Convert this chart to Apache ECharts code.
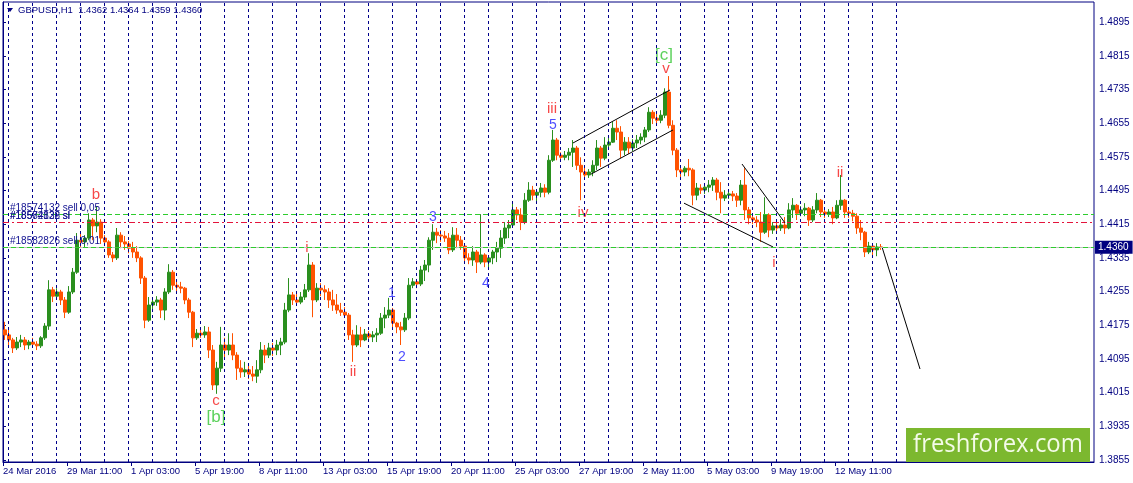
<!DOCTYPE html>
<html><head><meta charset="utf-8">
<script src="https://cdn.jsdelivr.net/npm/echarts@6/dist/echarts.min.js"></script>
<style>html,body{margin:0;padding:0;background:#fff}#c{width:1133px;height:483px}</style>
</head><body><div id="c"></div>
<script>
// ---- chart texts ----
const chartTitle = 'GBPUSD,H1  1.4362 1.4364 1.4359 1.4360';
const watermark = 'freshforex.com';

// ---- x axis: H1 bar index, a label every 64 bars ----
const xTickLabels = ['24 Mar 2016','29 Mar 11:00','1 Apr 03:00','5 Apr 19:00','8 Apr 11:00','13 Apr 03:00','15 Apr 19:00','20 Apr 11:00','25 Apr 03:00','27 Apr 19:00','2 May 11:00','5 May 03:00','9 May 19:00','12 May 11:00'];
const barsPerLabel = 64;
const totalBarSlots = 1091;
const firstMidnightBar = 5;   // 25 Mar 00:00
const barsPerDay = 24;
const lastGridBar = 893;

// ---- y axis ----
const yTickLabels = ['1.3855','1.3935','1.4015','1.4095','1.4175','1.4255','1.4335','1.4415','1.4495','1.4575','1.4655','1.4735','1.4815','1.4895'];
const yMin = 1.3850, yMax = 1.4943;

// ---- price candles: each one groups 4 H1 bars, [open, close, low, high] ----
const barsPerCandle = 4;
const candles = [
[1.4164,1.4152,1.4140,1.4183],[1.4152,1.4140,1.4128,1.4164],[1.4140,1.4121,1.4109,1.4145],[1.4121,1.4135,1.4116,1.4147],
[1.4135,1.4140,1.4123,1.4152],[1.4140,1.4128,1.4116,1.4147],[1.4128,1.4135,1.4118,1.4140],[1.4135,1.4130,1.4123,1.4145],
[1.4130,1.4126,1.4116,1.4137],[1.4126,1.4145,1.4121,1.4149],[1.4145,1.4173,1.4140,1.4180],[1.4173,1.4259,1.4164,1.4282],
[1.4259,1.4244,1.4230,1.4266],[1.4244,1.4254,1.4235,1.4263],[1.4254,1.4235,1.4223,1.4259],[1.4235,1.4206,1.4192,1.4242],
[1.4206,1.4254,1.4202,1.4268],[1.4254,1.4301,1.4249,1.4311],[1.4301,1.4377,1.4297,1.4394],[1.4377,1.4373,1.4358,1.4392],
[1.4373,1.4382,1.4361,1.4389],[1.4382,1.4425,1.4377,1.4441],[1.4425,1.4411,1.4377,1.4430],[1.4411,1.4420,1.4396,1.4458],
[1.4420,1.4382,1.4368,1.4427],[1.4382,1.4373,1.4363,1.4389],[1.4373,1.4342,1.4335,1.4377],[1.4342,1.4335,1.4325,1.4349],
[1.4335,1.4389,1.4330,1.4406],[1.4389,1.4373,1.4358,1.4396],[1.4373,1.4368,1.4354,1.4387],[1.4368,1.4358,1.4346,1.4375],
[1.4358,1.4349,1.4335,1.4373],[1.4349,1.4335,1.4325,1.4363],[1.4335,1.4287,1.4273,1.4339],[1.4287,1.4187,1.4168,1.4292],
[1.4187,1.4223,1.4183,1.4242],[1.4223,1.4230,1.4211,1.4240],[1.4230,1.4235,1.4221,1.4244],[1.4235,1.4211,1.4192,1.4240],
[1.4211,1.4254,1.4187,1.4263],[1.4254,1.4301,1.4249,1.4320],[1.4301,1.4270,1.4259,1.4306],[1.4270,1.4266,1.4254,1.4282],
[1.4266,1.4263,1.4251,1.4278],[1.4263,1.4235,1.4225,1.4266],[1.4235,1.4206,1.4192,1.4240],[1.4206,1.4145,1.4123,1.4209],
[1.4145,1.4156,1.4140,1.4166],[1.4156,1.4152,1.4145,1.4166],[1.4152,1.4159,1.4145,1.4173],[1.4159,1.4116,1.4097,1.4171],
[1.4116,1.4033,1.4021,1.4128],[1.4033,1.4073,1.4012,1.4088],[1.4073,1.4128,1.4064,1.4171],[1.4128,1.4116,1.4099,1.4145],
[1.4116,1.4128,1.4104,1.4156],[1.4128,1.4104,1.4092,1.4156],[1.4104,1.4073,1.4045,1.4111],[1.4073,1.4064,1.4050,1.4092],
[1.4064,1.4069,1.4052,1.4088],[1.4069,1.4059,1.4047,1.4080],[1.4059,1.4054,1.4042,1.4078],[1.4054,1.4069,1.4038,1.4092],
[1.4069,1.4116,1.4061,1.4135],[1.4116,1.4104,1.4085,1.4128],[1.4104,1.4121,1.4097,1.4133],[1.4121,1.4116,1.4102,1.4133],
[1.4116,1.4128,1.4104,1.4140],[1.4128,1.4135,1.4104,1.4145],[1.4135,1.4211,1.4130,1.4228],[1.4211,1.4247,1.4206,1.4287],
[1.4247,1.4235,1.4223,1.4254],[1.4235,1.4230,1.4221,1.4249],[1.4230,1.4242,1.4225,1.4254],[1.4242,1.4259,1.4235,1.4273],
[1.4259,1.4318,1.4254,1.4346],[1.4318,1.4235,1.4194,1.4325],[1.4235,1.4263,1.4230,1.4275],[1.4263,1.4259,1.4244,1.4275],
[1.4259,1.4254,1.4235,1.4270],[1.4254,1.4235,1.4216,1.4263],[1.4235,1.4223,1.4209,1.4259],[1.4223,1.4211,1.4202,1.4249],
[1.4211,1.4206,1.4197,1.4228],[1.4206,1.4199,1.4192,1.4218],[1.4199,1.4152,1.4140,1.4204],[1.4152,1.4128,1.4088,1.4164],
[1.4128,1.4152,1.4123,1.4175],[1.4152,1.4140,1.4123,1.4171],[1.4140,1.4154,1.4137,1.4166],[1.4154,1.4147,1.4137,1.4161],
[1.4147,1.4152,1.4135,1.4161],[1.4152,1.4156,1.4135,1.4168],[1.4156,1.4192,1.4152,1.4204],[1.4192,1.4199,1.4168,1.4218],
[1.4199,1.4211,1.4192,1.4240],[1.4211,1.4180,1.4166,1.4216],[1.4180,1.4171,1.4156,1.4183],[1.4171,1.4164,1.4128,1.4183],
[1.4164,1.4192,1.4159,1.4204],[1.4192,1.4270,1.4187,1.4287],[1.4270,1.4278,1.4263,1.4287],[1.4278,1.4273,1.4263,1.4285],
[1.4273,1.4306,1.4268,1.4316],[1.4306,1.4318,1.4280,1.4330],[1.4318,1.4377,1.4301,1.4384],[1.4377,1.4396,1.4354,1.4415],
[1.4396,1.4389,1.4370,1.4406],[1.4389,1.4387,1.4373,1.4401],[1.4387,1.4382,1.4373,1.4399],[1.4382,1.4354,1.4344,1.4394],
[1.4354,1.4389,1.4349,1.4408],[1.4389,1.4377,1.4358,1.4406],[1.4377,1.4363,1.4354,1.4387],[1.4363,1.4335,1.4325,1.4368],
[1.4335,1.4330,1.4320,1.4346],[1.4330,1.4349,1.4316,1.4363],[1.4349,1.4325,1.4299,1.4354],[1.4325,1.4342,1.4320,1.4439],
[1.4342,1.4325,1.4313,1.4346],[1.4325,1.4335,1.4311,1.4339],[1.4335,1.4349,1.4320,1.4354],[1.4349,1.4358,1.4325,1.4373],
[1.4358,1.4382,1.4335,1.4401],[1.4382,1.4406,1.4368,1.4420],[1.4406,1.4413,1.4382,1.4425],[1.4413,1.4449,1.4408,1.4468],
[1.4449,1.4437,1.4425,1.4456],[1.4437,1.4420,1.4401,1.4453],[1.4420,1.4472,1.4415,1.4489],[1.4472,1.4496,1.4468,1.4515],
[1.4496,1.4484,1.4472,1.4506],[1.4484,1.4491,1.4465,1.4496],[1.4491,1.4501,1.4479,1.4513],[1.4501,1.4491,1.4479,1.4510],
[1.4491,1.4567,1.4486,1.4579],[1.4567,1.4615,1.4563,1.4639],[1.4615,1.4579,1.4567,1.4620],[1.4579,1.4574,1.4565,1.4586],
[1.4574,1.4579,1.4567,1.4589],[1.4579,1.4586,1.4567,1.4596],[1.4586,1.4596,1.4551,1.4615],[1.4596,1.4555,1.4544,1.4601],
[1.4555,1.4539,1.4472,1.4574],[1.4539,1.4532,1.4520,1.4553],[1.4532,1.4539,1.4525,1.4546],[1.4539,1.4555,1.4529,1.4567],
[1.4555,1.4596,1.4544,1.4615],[1.4596,1.4572,1.4551,1.4601],[1.4572,1.4603,1.4567,1.4622],[1.4603,1.4610,1.4596,1.4624],
[1.4610,1.4643,1.4608,1.4658],[1.4643,1.4634,1.4615,1.4662],[1.4634,1.4591,1.4572,1.4648],[1.4591,1.4610,1.4579,1.4622],
[1.4610,1.4596,1.4582,1.4622],[1.4596,1.4608,1.4589,1.4617],[1.4608,1.4615,1.4596,1.4627],[1.4615,1.4622,1.4605,1.4631],
[1.4622,1.4639,1.4610,1.4646],[1.4639,1.4681,1.4634,1.4693],[1.4681,1.4667,1.4653,1.4686],[1.4667,1.4662,1.4653,1.4677],
[1.4662,1.4674,1.4655,1.4686],[1.4674,1.4729,1.4667,1.4738],[1.4729,1.4650,1.4643,1.4767],[1.4650,1.4591,1.4579,1.4662],
[1.4591,1.4544,1.4527,1.4596],[1.4544,1.4539,1.4525,1.4553],[1.4539,1.4548,1.4529,1.4553],[1.4548,1.4544,1.4529,1.4570],
[1.4544,1.4484,1.4460,1.4548],[1.4484,1.4501,1.4472,1.4513],[1.4501,1.4496,1.4487,1.4510],[1.4496,1.4503,1.4487,1.4513],
[1.4503,1.4508,1.4491,1.4520],[1.4508,1.4520,1.4494,1.4527],[1.4520,1.4491,1.4472,1.4525],[1.4491,1.4477,1.4441,1.4515],
[1.4477,1.4484,1.4470,1.4496],[1.4484,1.4487,1.4475,1.4496],[1.4487,1.4482,1.4470,1.4494],[1.4482,1.4472,1.4456,1.4489],
[1.4472,1.4508,1.4460,1.4520],[1.4508,1.4449,1.4425,1.4548],[1.4449,1.4430,1.4415,1.4456],[1.4430,1.4425,1.4415,1.4441],
[1.4425,1.4420,1.4408,1.4434],[1.4420,1.4396,1.4373,1.4444],[1.4396,1.4437,1.4392,1.4479],[1.4437,1.4401,1.4384,1.4441],
[1.4401,1.4411,1.4392,1.4420],[1.4411,1.4406,1.4394,1.4422],[1.4406,1.4413,1.4399,1.4427],[1.4413,1.4406,1.4392,1.4432],
[1.4406,1.4449,1.4403,1.4465],[1.4449,1.4460,1.4430,1.4477],[1.4460,1.4441,1.4425,1.4463],[1.4441,1.4449,1.4434,1.4458],
[1.4449,1.4453,1.4434,1.4465],[1.4453,1.4425,1.4411,1.4456],[1.4425,1.4449,1.4420,1.4458],[1.4449,1.4472,1.4441,1.4489],
[1.4472,1.4444,1.4432,1.4475],[1.4444,1.4439,1.4430,1.4451],[1.4439,1.4444,1.4432,1.4451],[1.4444,1.4430,1.4415,1.4456],
[1.4430,1.4460,1.4427,1.4472],[1.4460,1.4472,1.4449,1.4532],[1.4472,1.4444,1.4430,1.4475],[1.4444,1.4441,1.4430,1.4453],
[1.4441,1.4434,1.4422,1.4449],[1.4434,1.4406,1.4392,1.4441],[1.4406,1.4396,1.4377,1.4425],[1.4396,1.4349,1.4337,1.4399],
[1.4349,1.4363,1.4344,1.4373],[1.4363,1.4354,1.4339,1.4368],[1.4354,1.4361,1.4339,1.4370],[1.4361,1.4360,1.4354,1.4368]
];

// ---- order / price lines ----
const bidPrice = 1.4360;
const orderLines = [
  ['#18574132 sell 0,05', 1.4438, 'green'],
  ['#18574132 sl',        1.4419, 'red'],
  ['#18582826 sl',        1.4419, 'red'],
  ['#18582826 sell 0,01', 1.4360, 'green']
];

// ---- hand-drawn trend lines: [[bar, price], [bar, price]] ----
const trendLines = [
  [[570, 1.4608], [667, 1.4734]],
  [[588, 1.4534], [670, 1.4639]],
  [[681, 1.4465], [770, 1.4361]],
  [[739, 1.4558], [782, 1.4418]],
  [[879, 1.4361], [917, 1.4071]]
];

// ---- Elliott wave labels: [text, bar, price, colour key] ----
const waveLabels = [
  ['b', 93, 1.4484, 'red'], ['c', 213, 1.3995, 'red'], ['[b]', 213, 1.3957, 'green'],
  ['i', 304, 1.4358, 'red'], ['ii', 350, 1.4064, 'red'],
  ['1', 389, 1.4251, 'blue'], ['2', 399, 1.4099, 'blue'], ['3', 430, 1.4431, 'blue'],
  ['4', 483, 1.4275, 'blue'], ['5', 550, 1.4650, 'blue'],
  ['iii', 549, 1.4688, 'red'], ['iv', 580, 1.4443, 'red'],
  ['[c]', 661, 1.4817, 'green'], ['v', 663, 1.4783, 'red'],
  ['i', 771, 1.4323, 'red'], ['ii', 837, 1.4538, 'red']
];

const colours = { red: '#f51a1a', blue: '#2222ff', green: '#33c533' };
const navy = '#000080';
const FONT = 'Liberation Sans';

// ---- build series data ----
const candleData = candles.map((c, k) => [k * barsPerCandle + barsPerCandle / 2, c[0], c[1], c[2], c[3]]);
const xTickValues = xTickLabels.map((_, i) => i * barsPerLabel);
const yTickValues = yTickLabels.map(Number);

const dayLines = [];
for (let b = firstMidnightBar; b <= lastGridBar; b += barsPerDay) {
  dayLines.push({ xAxis: b + 0.5, lineStyle: { color: '#00008b', type: [3, 3], width: 1 }, label: { show: false } });
}
const lineColours = { green: '#2ecc2e', red: '#e4143c' };
const orderMarks = [{
  yAxis: bidPrice, lineStyle: { color: '#c0c0c0', type: 'solid', width: 1 },
  label: { show: true, position: 'end', formatter: bidPrice.toFixed(4), color: '#fff', backgroundColor: navy,
    padding: [2, 4, 1, 3], fontSize: 10, fontFamily: FONT, distance: 1 }
}];
orderLines.forEach(o => {
  orderMarks.push({
    yAxis: o[1],
    lineStyle: { color: lineColours[o[2]], type: o[2] === 'red' ? [6, 3, 2, 3] : [5, 3], width: 1 },
    label: { show: true, position: 'insideStartTop', formatter: o[0], color: '#101090', fontSize: 10, fontFamily: FONT, distance: [7, 1] }
  });
});

const series = [
  { type: 'line', data: [], z: 1, silent: true,
    markLine: { symbol: ['none', 'none'], precision: 5, silent: true, animation: false, data: dayLines.concat(orderMarks) } },
  { type: 'candlestick', data: candleData, barWidth: 3, z: 2,
    itemStyle: { color: '#2a8f1e', color0: '#ff5200', borderColor: '#2a8f1e', borderColor0: '#ff5200', borderWidth: 1 } }
];
trendLines.forEach(t => series.push({
  type: 'line', data: t, symbol: 'none', z: 3, silent: true,
  lineStyle: { color: '#000', width: 1 }
}));
series.push({
  type: 'scatter', z: 4, symbolSize: 0, silent: true,
  data: waveLabels.map(w => ({
    value: [w[1], w[2]],
    label: { show: true, position: 'inside', formatter: w[0], color: colours[w[3]],
      fontSize: w[0].startsWith('[') ? 17 : (/\d/.test(w[0]) ? 14 : 15), fontFamily: FONT }
  }))
});

const chart = echarts.init(document.getElementById('c'), null, { renderer: 'canvas' });
chart.setOption({
  animation: false,
  backgroundColor: '#fff',
  grid: { left: 3, right: 39, top: 2, bottom: 21, show: true, borderColor: navy, borderWidth: 1, backgroundColor: 'transparent' },
  xAxis: {
    type: 'value', min: 0, max: totalBarSlots,
    axisLine: { show: true, lineStyle: { color: navy } },
    splitLine: { show: false },
    axisTick: { show: true, customValues: xTickValues, length: 4, lineStyle: { color: navy } },
    axisLabel: { customValues: xTickValues, align: 'left', margin: 4, color: navy, fontSize: 9.5, fontFamily: FONT,
      formatter: v => xTickLabels[Math.round(v / barsPerLabel)] || '' }
  },
  yAxis: {
    type: 'value', position: 'right', min: yMin, max: yMax, scale: true,
    axisLine: { show: true, lineStyle: { color: navy } },
    splitLine: { show: false },
    axisTick: { show: true, customValues: yTickValues, length: 3, lineStyle: { color: navy } },
    axisLabel: { customValues: yTickValues, margin: 5, color: navy, fontSize: 10, fontFamily: FONT,
      formatter: v => v.toFixed(4) }
  },
  series: series,
  graphic: [
    { type: 'polygon', shape: { points: [[7, 8], [13, 8], [10, 12]] }, style: { fill: navy } },
    { type: 'text', left: 18, top: 5, style: { text: chartTitle, fill: navy, font: '9.5px "Liberation Sans"' } },
    { type: 'group', left: 906, top: 428, z: 100, children: [
      { type: 'rect', shape: { x: 0, y: 0, width: 184, height: 34 }, style: { fill: '#7cb82f' } },
      { type: 'text', x: 92, y: 17, scaleX: 0.92, style: { text: watermark, fill: '#f4fbe8', font: '26px "Open Sans"', align: 'center', verticalAlign: 'middle' } }
    ] }
  ]
});
</script>
</body></html>
